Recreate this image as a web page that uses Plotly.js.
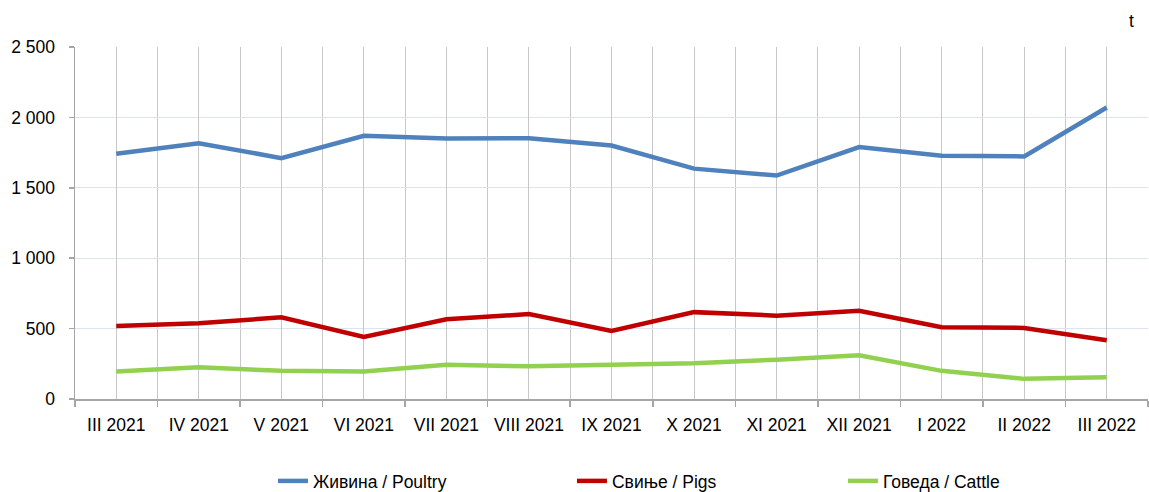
<!DOCTYPE html>
<html>
<head>
<meta charset="utf-8">
<script src="https://cdn.plot.ly/plotly-3.0.1.min.js"></script>
<style>
html,body{margin:0;padding:0;background:#fff;}
#chart{width:1149px;height:492px;}
</style>
</head>
<body>
<div id="chart"></div>
<script>
const months = ["III 2021","IV 2021","V 2021","VI 2021","VII 2021","VIII 2021","IX 2021","X 2021","XI 2021","XII 2021","I 2022","II 2022","III 2022"];
const poultry = [1742,1817,1711,1869,1850,1852,1800,1636,1587,1789,1728,1723,2070];
const pigs = [519,538,580,441,566,603,484,617,592,627,509,505,418];
const cattle = [195,225,200,195,244,232,243,254,279,310,200,143,155];
const seriesNames = ["Живина / Poultry","Свиње / Pigs","Говеда / Cattle"];
const unitLabel = "t";

const FONT = '"Liberation Sans", Arial, sans-serif';
const FS = 17.5;

const traces = [
  {x: months, y: poultry, name: seriesNames[0], type: 'scatter', mode: 'lines',
   line: {color: '#4f81bd', width: 4.5}, legendwidth: 254, xaxis: 'x', yaxis: 'y'},
  {x: months, y: pigs, name: seriesNames[1], type: 'scatter', mode: 'lines',
   line: {color: '#c00000', width: 4.5}, legendwidth: 226, xaxis: 'x', yaxis: 'y'},
  {x: months, y: cattle, name: seriesNames[2], type: 'scatter', mode: 'lines',
   line: {color: '#92d050', width: 4.5}, xaxis: 'x2', yaxis: 'y'}
];

const layout = {
  width: 1149, height: 492,
  margin: {l: 75, r: 1, t: 47, b: 93, autoexpand: false},
  paper_bgcolor: '#ffffff', plot_bgcolor: '#ffffff',
  font: {family: FONT, size: FS, color: '#000000'},
  separators: ', ',
  showlegend: true,
  legend: {orientation: 'h', x: 0.1845, xanchor: 'left', y: -0.233, yanchor: 'middle',
           font: {family: FONT, size: FS, color: '#000000'}, traceorder: 'normal', bgcolor: 'rgba(0,0,0,0)'},
  xaxis: {type: 'category', categoryorder: 'array', categoryarray: months,
          range: [-0.5, 12.5], tickson: 'boundaries', ticks: 'outside', ticklen: 6,
          tickcolor: '#a6a6a6', tickwidth: 1.5, tickangle: 0,
          showgrid: true, gridcolor: '#c8c8c8', gridwidth: 1,
          showline: true, linecolor: '#a6a6a6', linewidth: 1.5,
          tickfont: {family: FONT, size: FS, color: '#000000'}, ticklabelstandoff: 9,
          zeroline: false, fixedrange: true, automargin: false},
  xaxis2: {type: 'category', categoryorder: 'array', categoryarray: months,
           overlaying: 'x', range: [-0.5, 12.5], showticklabels: false, ticks: '',
           showgrid: true, gridcolor: '#c8c8c8', gridwidth: 1, showline: false,
           zeroline: false, fixedrange: true},
  yaxis: {range: [0, 2500], dtick: 500, tick0: 0, ticks: 'outside', ticklen: 5,
          tickcolor: '#a6a6a6', tickwidth: 1.5, separatethousands: true,
          showgrid: true, gridcolor: '#dce4f0', gridwidth: 1,
          showline: true, linecolor: '#a6a6a6', linewidth: 1.5,
          tickfont: {family: FONT, size: FS, color: '#000000'}, ticklabelstandoff: 10,
          zeroline: false, fixedrange: true, automargin: false},
  annotations: [
    {text: unitLabel, xref: 'paper', yref: 'paper', x: 0.985, y: 1.075, xanchor: 'center', yanchor: 'middle',
     showarrow: false, font: {family: FONT, size: FS, color: '#000000'}}
  ]
};

Plotly.newPlot('chart', traces, layout, {displayModeBar: false, staticPlot: true});
</script>
</body>
</html>
